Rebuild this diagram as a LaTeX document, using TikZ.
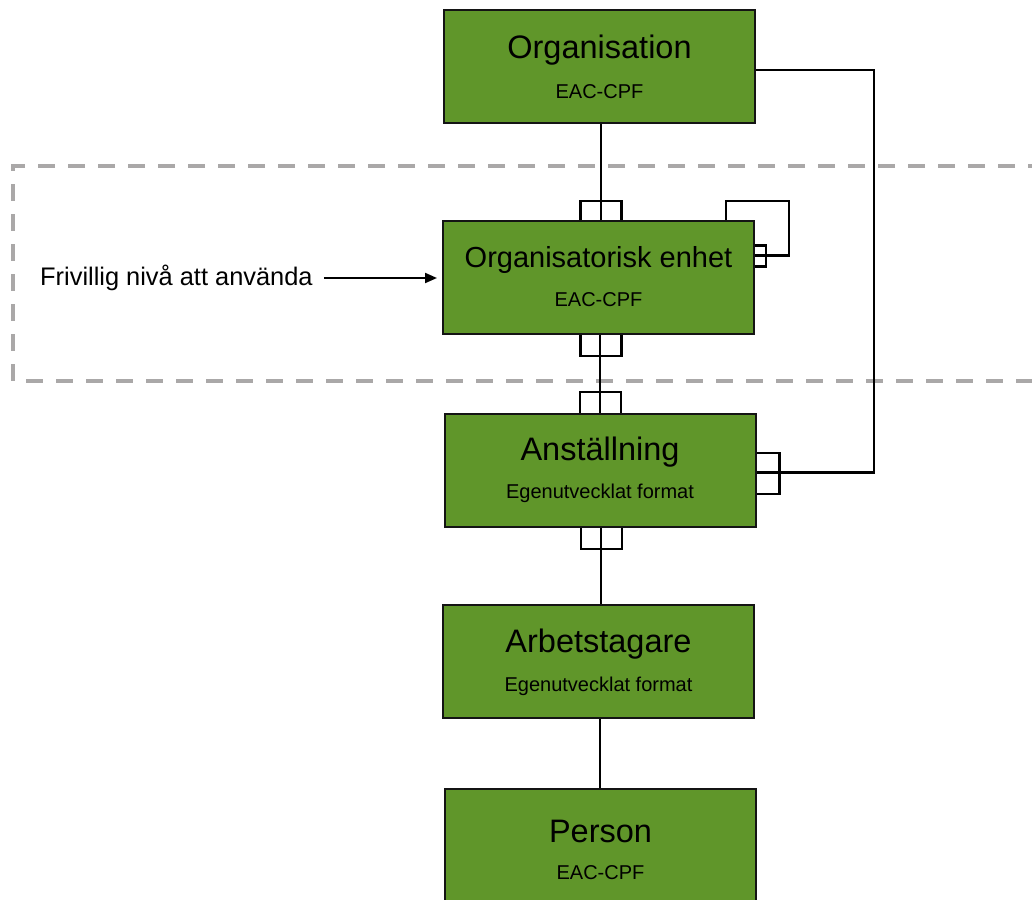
\documentclass[tikz,border=0pt]{standalone}
\usepackage{fontspec}
\setmainfont{Liberation Sans}
\usetikzlibrary{calc,arrows.meta}
\definecolor{boxgreen}{RGB}{96,150,42}
\definecolor{dashgray}{RGB}{170,168,168}
\definecolor{edgeblack}{RGB}{20,20,20}
\tikzset{
  entity/.style={draw=edgeblack, line width=2pt, fill=boxgreen, minimum width=311pt, minimum height=113pt, inner sep=0pt},
  titletext/.style={font=\fontsize{32.5}{36}\selectfont, inner sep=0pt},
  smalltitle/.style={font=\fontsize{29}{33}\selectfont, inner sep=0pt},
  subtext/.style={font=\fontsize{20}{24}\selectfont, inner sep=0pt},
  conn/.style={draw=black, line width=2.2pt},
  optbox/.style={draw=dashgray, line width=4pt, dash pattern=on 17pt off 13pt},
}
\begin{document}
\begin{tikzpicture}[x=1pt,y=-1pt]
\useasboundingbox (0,0) rectangle (1032,899);
% optional-level frame
\draw[optbox] (1045,166) -- (13,166) -- (13,381) -- (1045,381);
% entities
\node[entity] (org) at (599.5,66.5) {};
\node[entity] (enh) at (598.5,277.5) {};
\node[entity] (ans) at (600,470.5) {};
\node[entity] (arb) at (598.5,661.5) {};
\node[entity] (per) at (600.5,845.5) {};
% texts
\node[titletext] (orgT) at ($(org.center)+(0,-16)$) {Organisation};
\node[subtext] (orgS) at ($(org.center)+(0,25)$) {EAC-CPF};
\node[smalltitle] (enhT) at ($(enh.center)+(0,-18)$) {Organisatorisk enhet};
\node[subtext] (enhS) at ($(enh.center)+(0,22)$) {EAC-CPF};
\node[titletext] (ansT) at ($(ans.center)+(0,-18.5)$) {Anställning};
\node[subtext] (ansS) at ($(ans.center)+(0,23)$) {Egenutvecklat format};
\node[titletext] (arbT) at ($(arb.center)+(0,-17.5)$) {Arbetstagare};
\node[subtext] (arbS) at ($(arb.center)+(0,25)$) {Egenutvecklat format};
\node[titletext] (perT) at ($(per.center)+(0,-14.5)$) {Person};
\node[subtext] (perS) at ($(per.center)+(0,27)$) {EAC-CPF};
% label with arrow
\node[font=\fontsize{25.4}{29}\selectfont, inner sep=0pt, anchor=west] (lbl) at (40,278) {Frivillig nivå att använda};
\draw[line width=2pt, -{Triangle[length=12pt,width=10pt]}, shorten >=5pt] ($(lbl.east)+(11,0)$) -- (lbl.east -| enh.west);
% vertical connectors
\draw[conn] ($(org.south)+(1.5,0)$) -- ($(enh.north)+(2.5,0)$);
\draw[conn] ($(enh.south)+(1.5,0)$) -- ($(ans.north)+(0,0)$);
\draw[conn] ($(ans.south)+(1,0)$) -- ($(arb.north)+(2.5,0)$);
\draw[conn] ($(arb.south)+(1.5,0)$) -- ($(per.north)+(-0.5,0)$);
% crow-foot brackets
\draw[conn] ($(enh.north)+(-18,0)$) -- ++(0,-19) -- ++(41,0) -- ++(0,19);
\draw[conn] ($(enh.south)+(-18,0)$) -- ++(0,21) -- ++(41,0) -- ++(0,-21);
\draw[conn] ($(ans.north)+(-20,0)$) -- ++(0,-21) -- ++(41,0) -- ++(0,21);
\draw[conn] ($(ans.south)+(-19,0)$) -- ++(0,21) -- ++(41,0) -- ++(0,-21);
% self loop on organisatorisk enhet
\coordinate (loopc) at ($(enh.north east)+(34,-19)$);
\draw[conn] ($(enh.north east)+(-29,0)$) |- (loopc) |- ($(enh.east)+(0,-22)$);
\draw[conn] ($(enh.east)+(0,-32)$) -- ++(11,0) -- ++(0,21) -- ++(-11,0);
% organisation to anstallning
\coordinate (rt) at (874,70);
\draw[conn] ($(org.east)+(0,3.5)$) -- (rt) |- ($(ans.east)+(0,2)$);
\draw[conn] ($(ans.east)+(0,-17.5)$) -- ++(23,0) -- ++(0,41) -- ++(-23,0);
\end{tikzpicture}
\end{document}
